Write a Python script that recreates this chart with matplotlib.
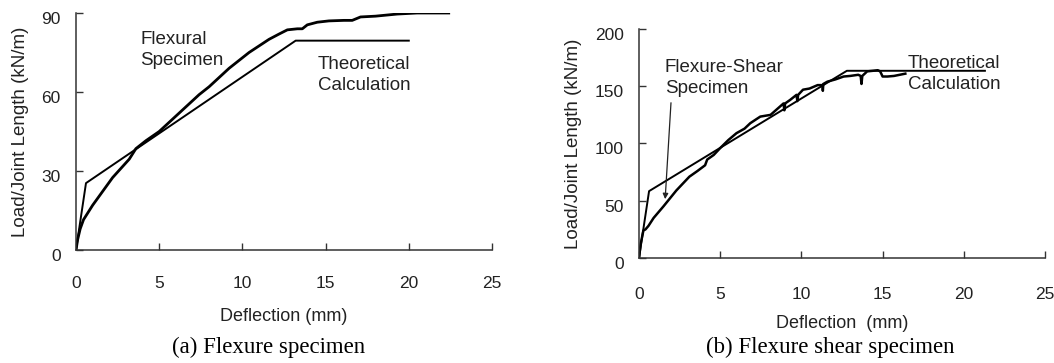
import matplotlib
matplotlib.use("Agg")
import matplotlib.pyplot as plt
import matplotlib.transforms as mtransforms

plt.rcParams["font.family"] = ["Liberation Sans", "DejaVu Sans"]

# (a) flexure specimen
flex_exp_x = [0, 0.1, 0.25, 0.45, 0.7, 1.0, 1.4, 1.8, 2.2, 2.7, 3.2, 3.6, 4.2, 5.0,
              5.6, 6.2, 6.8, 7.4, 8.0, 8.6, 9.2, 9.8, 10.4, 11.0, 11.6, 12.2, 12.7,
              13.3, 13.6, 13.9, 14.5, 15.2, 16.1, 16.6, 17.1, 18.0, 19.3, 20.5, 22.4]
flex_exp_y = [0, 4, 8, 11.5, 14, 17, 20.5, 24, 27.5, 31, 34.5, 38.5, 41.5, 45,
              48.5, 52, 55.5, 59, 62, 65.5, 69, 72, 75, 77.5, 80, 82, 83.6,
              84, 84, 85.5, 86.5, 87, 87.2, 87.2, 88.5, 88.8, 89.6, 90, 90]
flex_th_x = [0, 0.6, 13.2, 20]
flex_th_y = [0, 25.4, 79.5, 79.5]

# (b) flexure shear specimen
shear_exp_x = [0, 0.1, 0.27, 0.4, 0.58, 0.9, 1.5, 2.3, 3.1, 3.6, 4.07, 4.2, 4.6, 5.0,
               5.5, 6.0, 6.5, 6.85, 7.2, 7.47, 8.1, 8.5, 8.9, 8.95, 9.0, 9.3, 9.7,
               9.75, 9.8, 10.1, 10.5, 11.0, 11.3, 11.32, 11.35, 11.6, 12.1, 12.6,
               13.0, 13.5, 13.65, 13.7, 13.75, 14.05, 14.4, 14.7, 14.85, 15.0, 15.3,
               15.7, 16.4]
shear_exp_y = [0, 12, 24, 25, 28, 35, 45, 59, 71, 76, 81, 86, 90, 96,
               103, 109, 113, 117.7, 121, 123.5, 125, 130, 135, 129, 135, 138, 142.5,
               137, 142.5, 147, 148, 151, 151, 146, 152, 154, 156, 158.5,
               159, 160, 159, 152, 159, 163, 163.5, 164, 163, 158.5, 158.5,
               159, 161]
shear_th_x = [0, 0.62, 12.8, 21.3]
shear_th_y = [0, 58.4, 163.5, 163.5]

x_ticks = [0, 5, 10, 15, 20, 25]
flex_y_ticks = [0, 30, 60, 90]
shear_y_ticks = [0, 50, 100, 150, 200]

ink = "#222222"
W, H = 1054, 363
fig = plt.figure(figsize=(W / 100, H / 100), dpi=100)


def style(ax, yticks, ymax, xpad):
    for s in ["top", "right"]:
        ax.spines[s].set_visible(False)
    for s in ["left", "bottom"]:
        ax.spines[s].set_color("#333333")
        ax.spines[s].set_linewidth(1.1)
    ax.set_xlim(0, 25)
    ax.set_ylim(0, ymax)
    ax.set_xticks(x_ticks)
    ax.set_yticks(yticks)
    ax.tick_params(direction="in", length=5, width=1, colors="#333333",
                   labelsize=12.5, labelcolor=ink)
    ax.tick_params(axis="x", pad=xpad)
    ax.tick_params(axis="y", pad=11)
    off = mtransforms.ScaledTranslation(0, -5 / 100, fig.dpi_scale_trans)
    for lab in ax.get_yticklabels():
        lab.set_transform(lab.get_transform() + off)


ax1 = fig.add_axes([76 / W, 1 - 250 / H, 416 / W, 237 / H])
ax1.plot(flex_exp_x, flex_exp_y, color="black", lw=2.0)
ax1.plot(flex_th_x, flex_th_y, color="black", lw=1.4)
style(ax1, flex_y_ticks, 90, 19)
ax1.set_ylabel("Load/Joint Length (kN/m)", fontsize=13.5, color=ink, labelpad=9)
ax1.set_xlabel("Deflection (mm)", fontsize=13, color=ink, labelpad=12)
ax1.text(3.85, 83, "Flexural\nSpecimen", fontsize=13.5, color=ink,
         va="top", ha="left", linespacing=1.3)
ax1.text(17.3, 73.5, "Theoretical\nCalculation", fontsize=13.5, color=ink,
         va="top", ha="center", linespacing=1.3)

ax2 = fig.add_axes([639 / W, 1 - 258 / H, 406 / W, 229 / H])
ax2.plot(shear_exp_x, shear_exp_y, color="black", lw=1.8)
ax2.plot(shear_th_x, shear_th_y, color="black", lw=1.4)
style(ax2, shear_y_ticks, 200, 21)
ax2.set_ylabel("Load/Joint Length (kN/m)", fontsize=13.5, color=ink, labelpad=9)
ax2.set_xlabel("Deflection  (mm)", fontsize=13, color=ink, labelpad=9.5)
ax2.text(1.6, 174, "Flexure-Shear\nSpecimen", fontsize=13.5, color=ink,
         va="top", ha="left", linespacing=1.3)
ax2.text(19.4, 177.5, "Theoretical\nCalculation", fontsize=13.5, color=ink,
         va="top", ha="center", linespacing=1.3)
ax2.annotate("", xy=(1.6, 49), xytext=(1.98, 138),
             arrowprops=dict(arrowstyle="-|>", color=ink, lw=0.9,
                             mutation_scale=8))

fig.text(269 / W, 1 - 347 / H, "(a) Flexure specimen", ha="center", va="center",
         fontsize=16.5, family="Liberation Serif", color="black")
fig.text(830 / W, 1 - 347 / H, "(b) Flexure shear specimen", ha="center",
         va="center", fontsize=16.5, family="Liberation Serif", color="black")

fig.savefig("out.png", dpi=100)
